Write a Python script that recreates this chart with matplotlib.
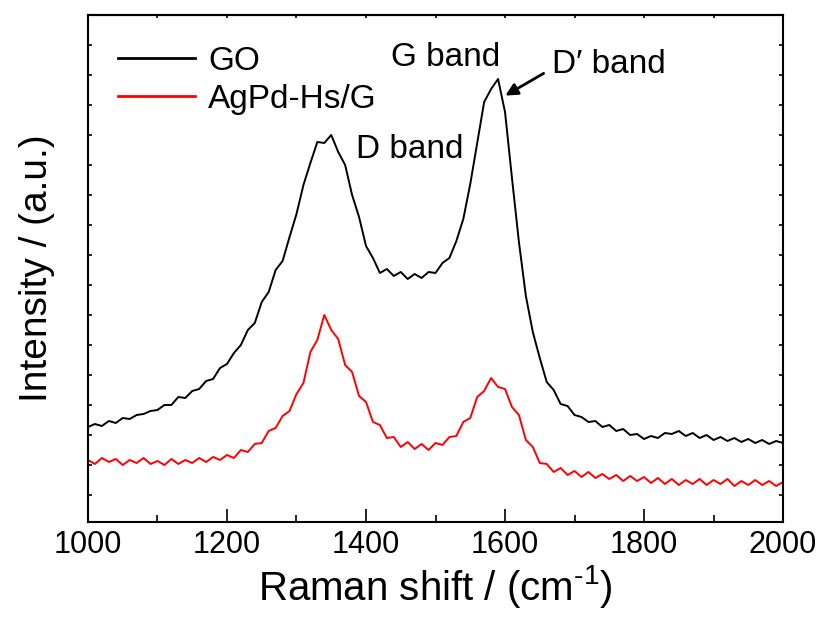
import numpy as np
import matplotlib
matplotlib.use('Agg')
import matplotlib.pyplot as plt
from matplotlib.ticker import MultipleLocator

plt.rcParams['font.family'] = ['Liberation Sans', 'DejaVu Sans']
plt.rcParams['mathtext.fontset'] = 'custom'
plt.rcParams['mathtext.rm'] = 'Liberation Sans'

# Raman shift grid (cm-1), one reading every 10 cm-1
shift = np.arange(1000, 2001, 10)

# intensities (a.u.)
go = [68, 71, 69, 74, 72, 77, 76, 80, 81, 84,
      85, 90, 90, 98, 97, 104, 106, 114, 116, 127,
      131, 142, 150, 165, 172, 193, 203, 225, 234, 258,
      281, 310, 332, 353, 352, 360, 343, 330, 300, 278,
      249, 237, 222, 226, 219, 223, 216, 221, 217, 223,
      222, 232, 237, 254, 276, 311, 352, 393, 406, 416,
      383, 317, 253, 199, 163, 137, 113, 105, 91, 89,
      80, 78, 73, 74, 68, 70, 64, 66, 60, 61,
      56, 59, 57, 62, 61, 64, 59, 62, 57, 60,
      55, 58, 54, 57, 53, 56, 52, 55, 51, 54, 52]

agpd = [35, 31, 37, 33, 36, 30, 35, 32, 37, 31,
        34, 30, 36, 31, 35, 32, 37, 33, 38, 35,
        40, 37, 45, 43, 51, 52, 64, 67, 79, 84,
        101, 112, 143, 155, 180, 165, 156, 130, 123, 99,
        93, 73, 70, 57, 58, 48, 53, 46, 51, 45,
        52, 50, 58, 59, 73, 77, 98, 104, 117, 108,
        106, 88, 80, 55, 48, 32, 31, 23, 27, 20,
        24, 18, 23, 17, 21, 16, 20, 14, 19, 14,
        18, 12, 17, 11, 16, 10, 15, 11, 16, 10,
        15, 11, 16, 9, 14, 10, 15, 10, 14, 9, 13]

labels = ['GO', 'AgPd-Hs/G']
colors = ['black', 'red']

fig = plt.figure(figsize=(8.26, 6.19), dpi=100)
ax = fig.add_axes([0.1065, 0.1567, 0.8415, 0.8191])

ax.plot(shift, go, color=colors[0], lw=1.4, label=labels[0])
ax.plot(shift, agpd, color=colors[1], lw=1.4, label=labels[1])

ax.set_xlim(1000, 2000)
ax.set_ylim(-27, 480)

ax.xaxis.set_major_locator(MultipleLocator(200))
ax.xaxis.set_minor_locator(MultipleLocator(100))
ax.yaxis.set_major_locator(MultipleLocator(30))
ax.set_yticklabels([])

ax.tick_params(axis='x', which='major', direction='in', length=9.5, width=1.2, labelsize=22, pad=6)
ax.tick_params(axis='x', which='minor', direction='in', length=5, width=1.2)
ax.tick_params(axis='y', which='both', direction='in', length=3, width=1.2, right=True)

# short ticks along the top edge
top = ax.secondary_xaxis('top')
top.xaxis.set_major_locator(MultipleLocator(100))
top.tick_params(direction='in', length=2, width=1.2, labeltop=False)

for sp in ax.spines.values():
    sp.set_linewidth(1.5)
for sp in top.spines.values():
    sp.set_linewidth(1.5)

ax.set_xlabel('Raman shift / (cm$^{\\text{-1}}$)', fontsize=29, labelpad=2)
ax.set_ylabel('Intensity / (a.u.)', fontsize=28, labelpad=20)

leg = ax.legend(loc='upper left', frameon=False, fontsize=24, handlelength=2.3,
                handletextpad=0.4, labelspacing=0.2, borderaxespad=0.3,
                bbox_to_anchor=(0.01, 0.985))
for h in leg.get_lines():
    h.set_linewidth(2)

ax.text(1515, 437, 'G band', fontsize=24, ha='center', va='center')
ax.text(1463, 345, 'D band', fontsize=24, ha='center', va='center')
ax.text(1750, 430, 'D\u2032 band', fontsize=24, ha='center', va='center')
ax.annotate('', xy=(1597, 398), xytext=(1659, 423),
            arrowprops=dict(arrowstyle='-|>', color='black', lw=2, mutation_scale=18))

fig.savefig('out.png', dpi=100)
